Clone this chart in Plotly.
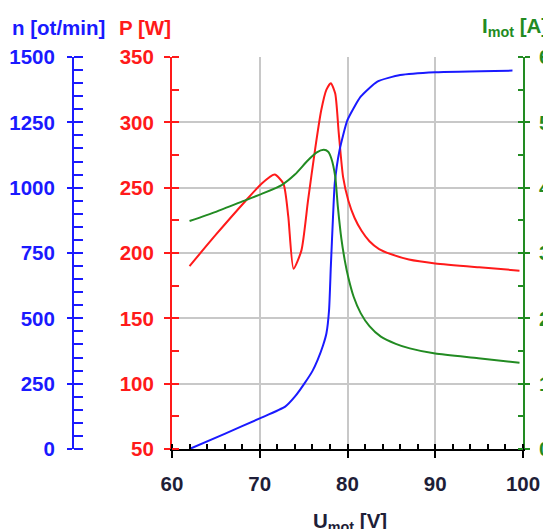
import plotly.graph_objects as go

# ---- data ----
u_n = [62.0, 66.0, 70.0, 72.9, 74.0, 75.1, 76.0, 76.6, 77.2, 77.6, 77.9, 78.1, 78.35, 78.55, 79.1, 80.0, 81.5, 83.4, 86.0, 90.0, 98.8]
n_rpm = [0, 58, 117, 162, 200, 251, 298, 341, 395, 443, 532, 698, 889, 1017, 1144, 1259, 1348, 1406, 1431, 1442, 1448]

u_p = [62.0, 65.0, 68.4, 70.2, 71.7, 72.7, 73.25, 73.85, 74.75, 75.5, 76.3, 77.0, 77.6, 78.1, 78.6, 79.0, 79.5, 80.1, 80.8, 81.6, 82.5, 83.6, 85.0, 87.0, 90.0, 95.0, 99.6]
p_w = [190, 214, 240, 253, 260, 253, 228, 188, 202, 240, 279, 309, 325, 330, 322, 292, 258, 240, 227, 217, 209, 203, 199, 195, 192, 189, 186.5]

u_i = [62.0, 65.0, 68.4, 70.5, 72.5, 74.0, 75.5, 76.5, 77.3, 77.8, 78.15, 78.6, 78.9, 79.3, 79.7, 80.1, 80.7, 81.5, 82.5, 83.8, 85.5, 87.1, 90.0, 94.9, 99.6]
i_a = [3.49, 3.63, 3.81, 3.92, 4.04, 4.20, 4.42, 4.54, 4.58, 4.55, 4.45, 4.17, 3.71, 3.22, 2.88, 2.62, 2.33, 2.08, 1.88, 1.72, 1.61, 1.54, 1.46, 1.39, 1.32]

BLUE = "#1a1aff"
RED = "#ff1a1a"
GREEN = "#228b22"
DARK = "#1e1e38"
GRID = "#c8c8c8"

# page body has an 8px margin, so work in figure coords = screen px - 8
OFF = 8
W, H = 551 - OFF, 529 - OFF


def px(x):
    return (x - OFF) / W


def py(y):
    return 1 - (y - OFF) / H


XD = [px(172), px(523)]
YD = [py(449), py(57)]
FONT = dict(family="Liberation Sans, Arial", size=20.5, weight="bold")

fig = go.Figure()
fig.add_trace(go.Scatter(x=u_n, y=n_rpm, yaxis="y2", mode="lines",
                         line=dict(color=BLUE, width=2, shape="spline", smoothing=0.5)))
fig.add_trace(go.Scatter(x=u_p, y=p_w, yaxis="y", mode="lines",
                         line=dict(color=RED, width=2, shape="spline", smoothing=0.6)))
fig.add_trace(go.Scatter(x=u_i, y=i_a, yaxis="y3", mode="lines",
                         line=dict(color=GREEN, width=2, shape="spline", smoothing=0.6)))


def tickfont(c):
    return dict(FONT, color=c)


fig.update_layout(
    width=W, height=H,
    margin=dict(l=0, r=0, t=0, b=0),
    plot_bgcolor="white", paper_bgcolor="white",
    showlegend=False,
    xaxis=dict(domain=XD, range=[60, 100], anchor="y", dtick=10,
               showline=True, linecolor="black", linewidth=2,
               ticks="outside", ticklen=7, tickwidth=2, tickcolor="black",
               minor=dict(ticks="inside", dtick=2, ticklen=5, tickwidth=1.5, tickcolor="black"),
               showgrid=True, gridcolor=GRID, gridwidth=2, zeroline=False,
               tickfont=tickfont(DARK), ticklabelstandoff=8, automargin=False,
               ticklabeloverflow="allow"),
    xaxis2=dict(overlaying="x", range=[60, 100], anchor="y", dtick=10,
                ticks="inside", ticklen=7, tickwidth=2, tickcolor="black",
                showticklabels=False, showgrid=False, zeroline=False, showline=False),
    yaxis=dict(domain=YD, range=[50, 350], anchor="x", side="left", dtick=50,
               showline=True, linecolor=RED, linewidth=2,
               ticks="outside", ticklen=6, tickwidth=2, tickcolor=RED,
               minor=dict(ticks="inside", dtick=25, ticklen=7, tickwidth=2, tickcolor=RED),
               showgrid=True, gridcolor=GRID, gridwidth=2, zeroline=False,
               tickfont=tickfont(RED), ticklabelstandoff=6, automargin=False),
    yaxis2=dict(overlaying="y", range=[0, 1500], anchor="free", position=px(73), side="left",
                dtick=250, showline=True, linecolor=BLUE, linewidth=2,
                ticks="outside", ticklen=5, tickwidth=2, tickcolor=BLUE,
                minor=dict(ticks="inside", dtick=50, ticklen=9, tickwidth=2, tickcolor=BLUE),
                showgrid=False, zeroline=False,
                tickfont=tickfont(BLUE), ticklabelstandoff=8, automargin=False),
    yaxis3=dict(overlaying="y", range=[0, 6], anchor="x", side="right", dtick=1,
                showline=True, linecolor=GREEN, linewidth=2,
                ticks="outside", ticklen=5, tickwidth=2, tickcolor=GREEN,
                minor=dict(ticks="inside", dtick=0.5, ticklen=5, tickwidth=2, tickcolor=GREEN),
                showgrid=False, zeroline=False,
                tickfont=tickfont(GREEN), ticklabelstandoff=5, automargin=False,
                ticklabeloverflow="allow"),
    yaxis4=dict(overlaying="y", range=[50, 350], anchor="x", side="left", dtick=50,
                ticks="inside", ticklen=7, tickwidth=2, tickcolor=RED,
                showticklabels=False, showgrid=False, zeroline=False, showline=False),
    yaxis5=dict(overlaying="y", range=[0, 1500], anchor="free", position=px(73), side="left",
                dtick=250, ticks="inside", ticklen=9, tickwidth=2, tickcolor=BLUE,
                showticklabels=False, showgrid=False, zeroline=False, showline=False),
    yaxis6=dict(overlaying="y", range=[0, 6], anchor="x", side="right", dtick=1,
                ticks="inside", ticklen=5, tickwidth=2, tickcolor=GREEN,
                showticklabels=False, showgrid=False, zeroline=False, showline=False),
)

# axis titles
fig.add_annotation(x=px(58), y=py(27), xref="paper", yref="paper", showarrow=False,
                   text="n [ot/min]", font=dict(FONT, color=BLUE), xanchor="center", yanchor="middle")
fig.add_annotation(x=px(145), y=py(27), xref="paper", yref="paper", showarrow=False,
                   text="P [W]", font=dict(FONT, color=RED), xanchor="center", yanchor="middle")
fig.add_annotation(x=px(550), y=py(27), xref="paper", yref="paper", showarrow=False,
                   text="I<sub>mot</sub> [A]", font=dict(FONT, color=GREEN), xanchor="right", yanchor="middle")
fig.add_annotation(x=px(350), y=py(522), xref="paper", yref="paper", showarrow=False,
                   text="U<sub>mot</sub> [V]", font=dict(FONT, color=DARK), xanchor="center", yanchor="middle")

fig.write_html("out.html")
